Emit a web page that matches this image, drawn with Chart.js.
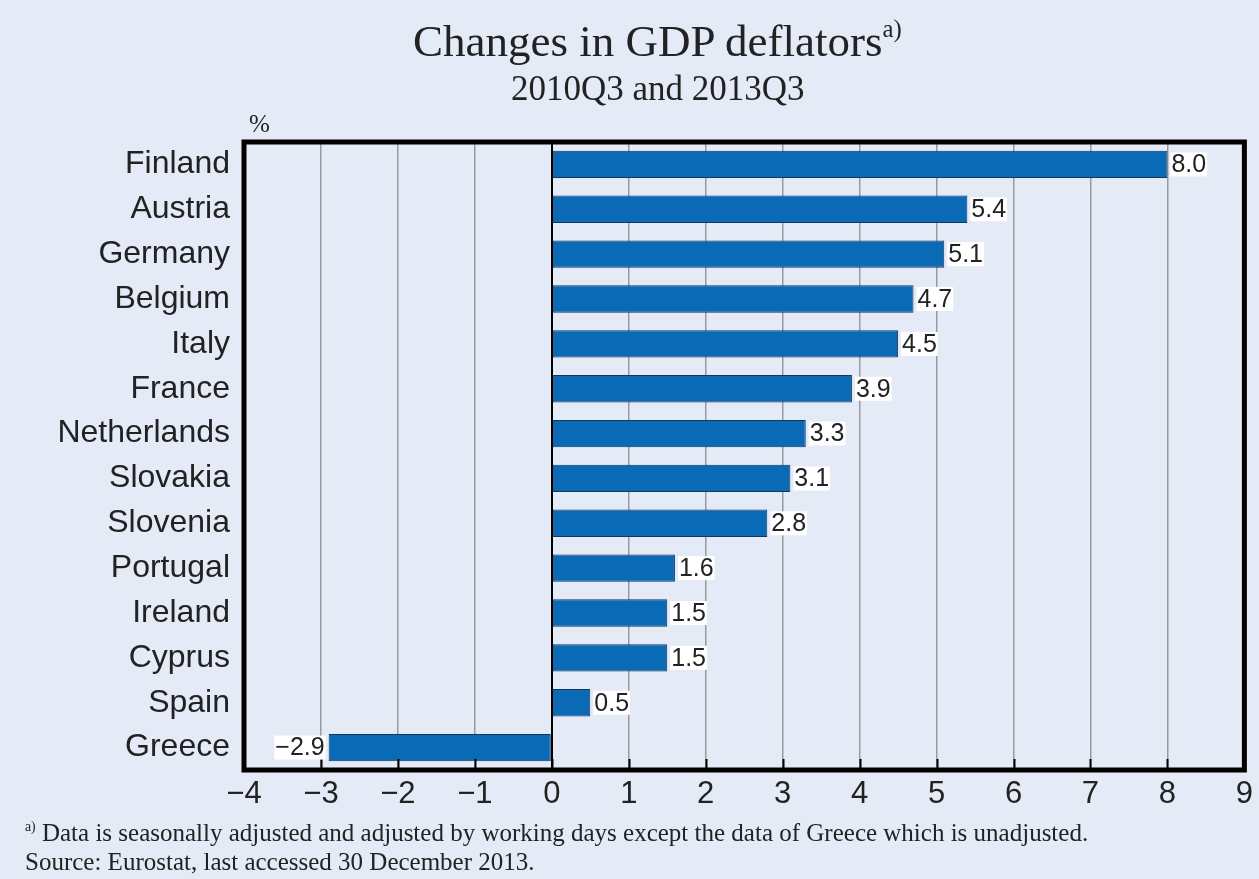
<!DOCTYPE html>
<html>
<head>
<meta charset="utf-8">
<script src="https://cdn.jsdelivr.net/npm/chart.js@4.4.1/dist/chart.umd.min.js"></script>
<style>
  body { margin: 0; background: #e4eaf6; }
  #wrap { position: relative; width: 1259px; height: 879px; background: #e4eaf6; }
  #chart { position: absolute; left: 0; top: 0; }
  .serif { font-family: "Liberation Serif", "Times New Roman", serif; color: #222; position: absolute; white-space: nowrap; }
  #title { left: 413px; top: 16px; font-size: 45px; line-height: 50px; }
  #subtitle { left: 511px; top: 69px; font-size: 35px; line-height: 40px; }
  #unit { left: 249px; top: 110px; font-size: 25px; line-height: 28px; }
  #note { left: 25px; top: 820px; font-size: 25px; line-height: 25px; }
  sup { font-size: 0.55em; vertical-align: 0; position: relative; top: -0.75em; }
</style>
</head>
<body>
<div id="wrap">
  <canvas id="chart" width="1259" height="879"></canvas>
  <div class="serif" id="title">Changes in GDP deflators<sup>a)</sup></div>
  <div class="serif" id="subtitle">2010Q3 and 2013Q3</div>
  <div class="serif" id="unit">%</div>
  <div class="serif" id="note"><sup>a)</sup> Data is seasonally adjusted and adjusted by working days except the data of Greece which is unadjusted.<br>Source: Eurostat, last accessed 30 December 2013.</div>
</div>
<script>
const countries = ['Finland', 'Austria', 'Germany', 'Belgium', 'Italy', 'France', 'Netherlands',
  'Slovakia', 'Slovenia', 'Portugal', 'Ireland', 'Cyprus', 'Spain', 'Greece']
const changes = [8.0, 5.4, 5.1, 4.7, 4.5, 3.9, 3.3, 3.1, 2.8, 1.6, 1.5, 1.5, 0.5, -2.9]
const xMin = -4
const xMax = 9

const minus = (s) => String(s).replace('-', '\u2212')

// thick frame + little black tick marks at the bottom
const framePlugin = {
  id: 'frame',
  afterDatasetsDraw(chart) {
    const { ctx, chartArea: a, scales: { x } } = chart
    ctx.save()
    ctx.strokeStyle = '#000'
    ctx.lineWidth = 2
    for (let v = xMin + 1; v < xMax; v++) {
      const px = Math.round(x.getPixelForValue(v)) + 0.5
      ctx.beginPath()
      ctx.moveTo(px, a.bottom)
      ctx.lineTo(px, a.bottom - 11)
      ctx.stroke()
    }
    ctx.lineWidth = 5
    ctx.strokeRect(a.left, a.top, a.right - a.left, a.bottom - a.top)
    ctx.restore()
  }
}

// value labels at the bar ends
const valuePlugin = {
  id: 'values',
  afterDatasetsDraw(chart) {
    const { ctx } = chart
    const meta = chart.getDatasetMeta(0)
    ctx.save()
    ctx.font = '25px "Liberation Sans", Arial, sans-serif'
    ctx.textBaseline = 'middle'
    meta.data.forEach((bar, i) => {
      const v = changes[i]
      const txt = minus(v.toFixed(1))
      const w = ctx.measureText(txt).width
      const tx = v >= 0 ? bar.x + 4 : bar.x - 4 - w
      ctx.fillStyle = '#fff'
      ctx.fillRect(tx - 1, bar.y - 12, w + 2, 24)
      ctx.fillStyle = '#222'
      ctx.textAlign = 'left'
      ctx.fillText(txt, tx, bar.y + 1)
    })
    ctx.restore()
  }
}

const data = {
  labels: countries,
  datasets: [{
    data: changes,
    backgroundColor: '#0a6ab5',
    borderColor: '#163658',
    borderWidth: 1,
    borderSkipped: false,
    barPercentage: 0.61,
    categoryPercentage: 1
  }]
}

const config = {
  type: 'bar',
  data: data,
  options: {
    indexAxis: 'y',
    responsive: false,
    animation: false,
    layout: { padding: { left: 0, top: 142, right: 10, bottom: 67 } },
    plugins: { legend: { display: false }, tooltip: { enabled: false } },
    scales: {
      x: {
        min: xMin,
        max: xMax,
        afterFit: (s) => { s.height = 42 },
        border: { display: false },
        grid: {
          drawTicks: false,
          color: (c) => c.tick && c.tick.value === 0 ? '#000' : '#9a9a9a',
          lineWidth: (c) => c.tick && c.tick.value === 0 ? 2 : 1.5
        },
        ticks: {
          stepSize: 1,
          padding: 6,
          color: '#222',
          font: { family: '"Liberation Sans", Arial, sans-serif', size: 31 },
          callback: (v) => minus(v)
        }
      },
      y: {
        afterFit: (s) => { s.width = 244 },
        border: { display: false },
        grid: { display: false, drawTicks: false },
        ticks: {
          padding: 14,
          color: '#222',
          font: { family: '"Liberation Sans", Arial, sans-serif', size: 32 }
        }
      }
    }
  },
  plugins: [framePlugin, valuePlugin]
}

const myChart = new Chart(document.getElementById('chart'), config)
</script>
</body>
</html>
